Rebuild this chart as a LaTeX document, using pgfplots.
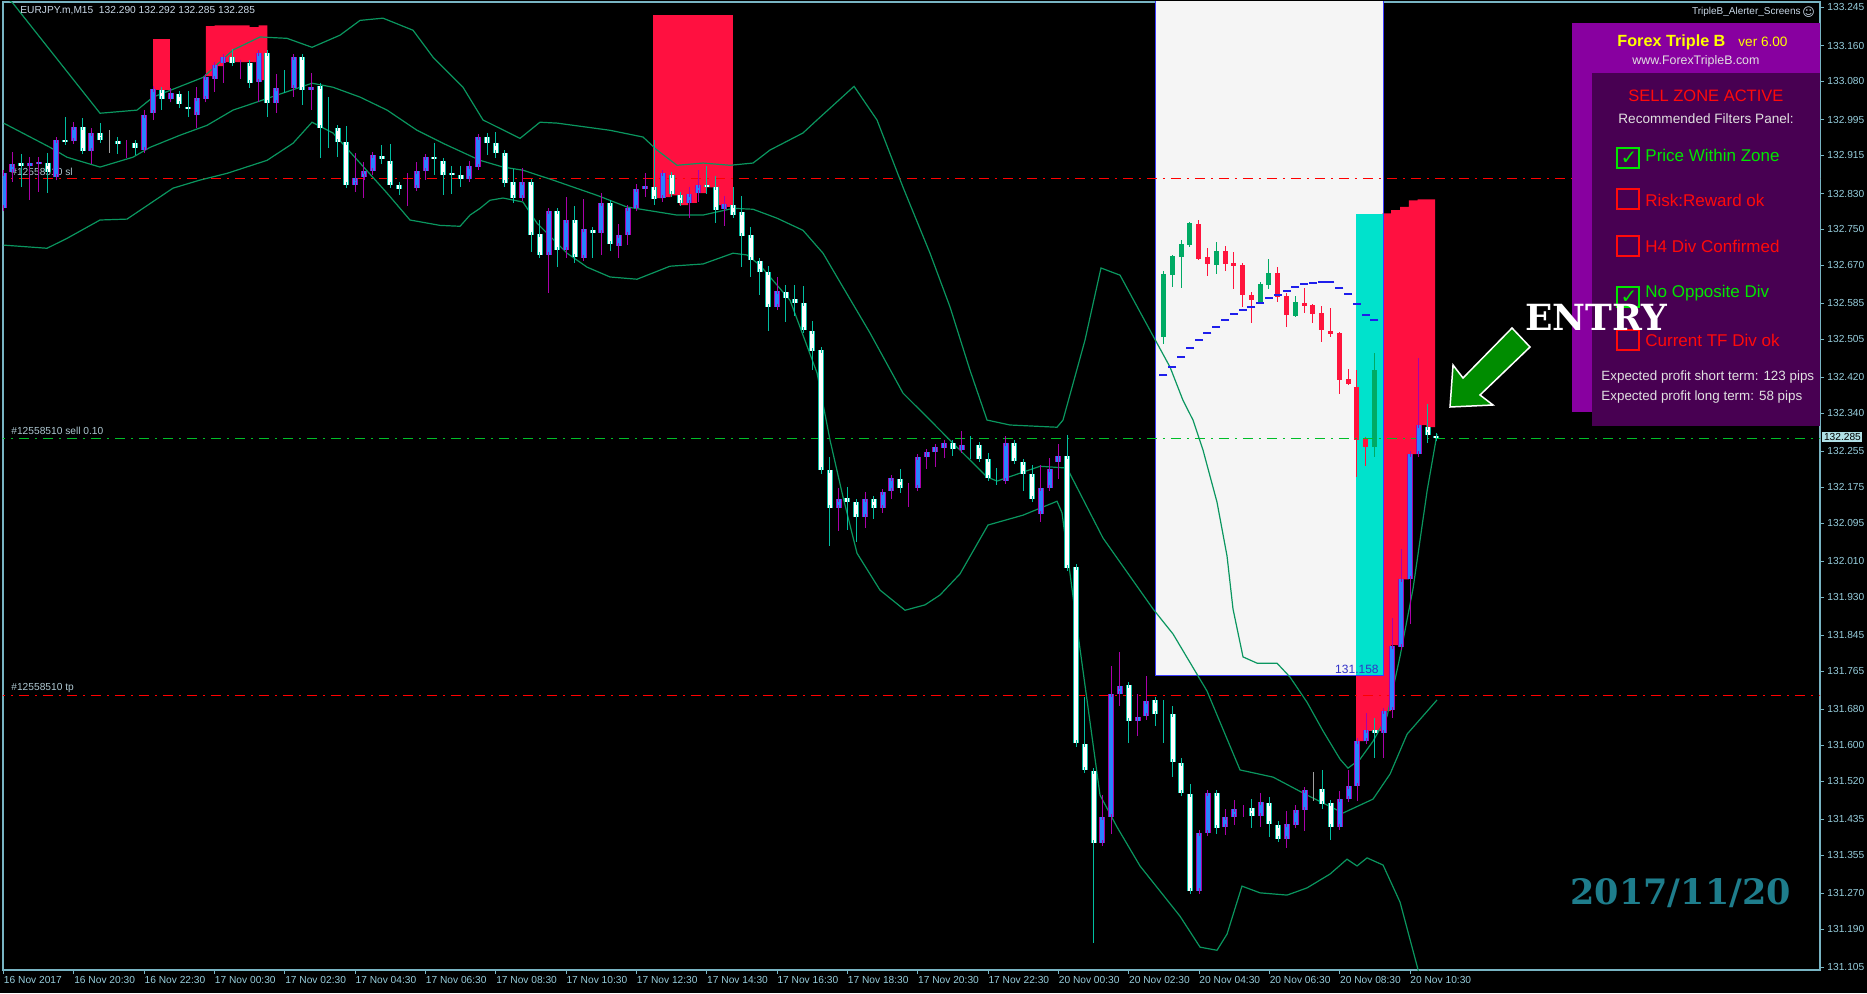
\documentclass[border=0pt]{standalone}
\usepackage{pgfplots}
\pgfplotsset{compat=1.18}
\usepackage{pgfplotstable}
\usepackage{fontspec}
\setmainfont{Liberation Sans}
\newfontfamily\dejavu{DejaVu Sans}
\newfontfamily\slab{DejaVu Serif}

\definecolor{framecol}{RGB}{120,180,195}
\definecolor{labcol}{RGB}{150,205,220}
\definecolor{wcol}{RGB}{0,190,160}
\definecolor{bfill}{RGB}{40,130,255}
\definecolor{bout}{RGB}{170,0,170}
\definecolor{gcol}{RGB}{160,160,160}
\definecolor{bandcol}{RGB}{10,150,95}
\definecolor{zonered}{RGB}{255,16,64}
\definecolor{zonecyan}{RGB}{0,226,204}
\definecolor{insetbg}{RGB}{245,245,245}
\definecolor{insetborder}{RGB}{60,60,255}
\definecolor{igreen}{RGB}{0,170,100}
\definecolor{ired}{RGB}{255,20,60}
\definecolor{psarcol}{RGB}{30,30,235}
\definecolor{slred}{RGB}{255,0,0}
\definecolor{sellgreen}{RGB}{0,190,40}
\definecolor{panelouter}{RGB}{136,0,160}
\definecolor{panelinner}{RGB}{72,0,82}
\definecolor{ptext}{RGB}{225,225,225}
\definecolor{pgreen}{RGB}{0,230,0}
\definecolor{pred}{RGB}{255,10,10}
\definecolor{pyellow}{RGB}{255,255,0}
\definecolor{arrowgreen}{RGB}{0,140,0}
\definecolor{datecol}{RGB}{30,125,140}
\definecolor{linelab}{RGB}{175,200,210}
\definecolor{toplab}{RGB}{200,215,230}
\definecolor{pricebox}{RGB}{176,224,230}
\definecolor{inlab}{RGB}{50,50,200}

% main chart candles: x, wick high, body top, body bottom, wick low
\pgfplotstableread{
x hi bt bb lo
2 132.918 132.898 132.891 132.844
5 132.920 132.898 132.878 132.831
7 133.000 132.949 132.945 132.942
9 132.998 132.978 132.924 132.918
11 132.987 132.965 132.949 132.942
13 132.956 132.947 132.940 132.918
15 132.945 132.942 132.931 132.916
18 133.065 133.060 133.040 133.016
20 133.054 133.051 133.029 133.020
21 133.058 133.022 133.018 133.000
26 133.152 133.134 133.121 133.114
28 133.123 133.121 133.076 133.065
30 133.145 133.143 133.031 133.000
32 133.105 133.067 133.067 133.054
34 133.138 133.134 133.060 133.027
36 133.071 133.069 132.976 132.909
37 133.045 132.976 132.976 132.931
38 132.978 132.976 132.945 132.911
39 132.980 132.945 132.849 132.842
43 132.938 132.913 132.907 132.895
44 132.940 132.902 132.849 132.844
45 132.855 132.849 132.840 132.826
49 132.942 132.911 132.907 132.871
50 132.907 132.902 132.871 132.826
51 132.891 132.875 132.871 132.829
52 132.891 132.871 132.862 132.844
55 132.965 132.956 132.942 132.916
56 132.967 132.942 132.920 132.909
57 132.922 132.920 132.853 132.844
58 132.884 132.855 132.820 132.809
60 132.858 132.855 132.737 132.699
61 132.771 132.739 132.693 132.688
63 132.795 132.791 132.704 132.666
65 132.802 132.771 132.688 132.675
67 132.755 132.748 132.742 132.686
69 132.815 132.809 132.717 132.702
74 132.949 132.844 132.817 132.804
76 132.875 132.871 132.829 132.824
77 132.831 132.826 132.809 132.804
80 132.891 132.849 132.844 132.829
81 132.869 132.844 132.793 132.764
83 132.844 132.804 132.782 132.780
84 132.824 132.789 132.735 132.666
85 132.755 132.737 132.681 132.644
86 132.686 132.679 132.655 132.603
87 132.668 132.655 132.577 132.523
89 132.626 132.610 132.597 132.543
90 132.626 132.594 132.585 132.557
91 132.624 132.585 132.525 132.521
92 132.545 132.523 132.479 132.436
93 132.483 132.481 132.213 132.204
94 132.242 132.213 132.129 132.044
96 132.175 132.151 132.142 132.080
97 132.144 132.142 132.109 132.053
99 132.153 132.149 132.129 132.104
102 132.216 132.193 132.173 132.162
108 132.276 132.274 132.260 132.245
110 132.289 132.269 132.269 132.238
111 132.271 132.269 132.238 132.231
112 132.251 132.238 132.196 132.189
113 132.218 132.196 132.196 132.180
115 132.276 132.274 132.233 132.231
116 132.233 132.231 132.204 132.167
117 132.225 132.204 132.149 132.147
121 132.291 132.245 131.995 131.993
122 131.999 131.997 131.605 131.596
123 131.707 131.603 131.545 131.540
124 131.549 131.542 131.382 131.159
128 131.736 131.734 131.654 131.605
131 131.703 131.701 131.669 131.643
132 131.701 131.667 131.667 131.605
133 131.687 131.669 131.563 131.529
134 131.571 131.560 131.493 131.491
135 131.513 131.491 131.275 131.271
138 131.498 131.493 131.415 131.402
142 131.480 131.460 131.442 131.415
144 131.485 131.471 131.424 131.395
145 131.431 131.422 131.391 131.386
150 131.545 131.502 131.469 131.458
151 131.476 131.471 131.418 131.389
156 131.661 131.634 131.627 131.571
162 132.361 132.309 132.291 132.274
163 132.292 132.290 132.285 132.285
}\tW

\pgfplotstableread{
x hi bt bb lo
0 132.882 132.875 132.797 132.793
1 132.922 132.895 132.878 132.855
3 132.911 132.898 132.891 132.815
4 132.911 132.900 132.895 132.833
6 132.956 132.949 132.866 132.864
8 132.989 132.978 132.947 132.945
10 132.976 132.965 132.924 132.895
14 132.949 132.942 132.942 132.909
16 133.016 133.005 132.927 132.920
17 133.065 133.063 133.009 132.994
19 133.065 133.054 133.040 133.038
22 133.067 133.043 133.005 132.976
23 133.094 133.089 133.040 133.038
24 133.121 133.116 133.085 133.056
25 133.138 133.134 133.121 133.076
27 133.123 133.121 133.121 133.085
29 133.145 133.143 133.078 133.034
31 133.096 133.065 133.031 133.009
33 133.138 133.134 133.065 133.045
35 133.098 133.067 133.060 133.016
40 132.920 132.864 132.849 132.833
41 132.900 132.880 132.866 132.820
42 132.922 132.916 132.880 132.871
46 132.875 132.842 132.842 132.802
47 132.900 132.880 132.842 132.837
48 132.916 132.911 132.880 132.860
53 132.902 132.891 132.862 132.860
54 132.960 132.956 132.889 132.887
59 132.887 132.855 132.820 132.815
62 132.795 132.791 132.693 132.608
64 132.822 132.771 132.704 132.686
66 132.817 132.751 132.686 132.684
68 132.831 132.809 132.742 132.693
70 132.762 132.737 132.713 132.686
71 132.800 132.797 132.737 132.715
72 132.851 132.840 132.797 132.795
73 132.875 132.846 132.840 132.822
75 132.875 132.875 132.820 132.811
78 132.844 132.829 132.809 132.775
79 132.882 132.849 132.831 132.811
82 132.824 132.806 132.795 132.757
88 132.644 132.612 132.577 132.574
95 132.173 132.149 132.129 132.077
98 132.164 132.149 132.109 132.084
100 132.167 132.164 132.129 132.118
101 132.200 132.196 132.167 132.149
103 132.184 132.173 132.173 132.131
104 132.242 132.242 132.173 132.169
105 132.258 132.254 132.242 132.216
106 132.269 132.265 132.254 132.220
107 132.278 132.274 132.262 132.240
109 132.300 132.269 132.258 132.256
114 132.289 132.274 132.189 132.189
118 132.225 132.173 132.115 132.097
119 132.240 132.216 132.173 132.169
120 132.271 132.245 132.231 132.193
125 131.489 131.440 131.382 131.380
126 131.776 131.714 131.440 131.402
127 131.808 131.732 131.714 131.687
129 131.714 131.663 131.654 131.620
130 131.754 131.698 131.665 131.656
136 131.411 131.404 131.275 131.275
137 131.498 131.493 131.404 131.402
139 131.458 131.440 131.418 131.400
140 131.478 131.458 131.440 131.422
141 131.467 131.460 131.460 131.440
143 131.493 131.473 131.442 131.418
146 131.453 131.424 131.391 131.371
147 131.467 131.456 131.422 131.418
148 131.507 131.500 131.456 131.409
152 131.498 131.480 131.418 131.415
153 131.545 131.509 131.480 131.478
154 131.612 131.609 131.509 131.476
155 131.672 131.634 131.609 131.609
157 131.681 131.676 131.627 131.571
158 131.883 131.821 131.678 131.661
159 132.037 131.970 131.819 131.814
160 132.254 132.249 131.970 131.870
161 132.463 132.314 132.249 132.249
}\tB

\pgfplotstableread{
x hi bt bb lo
12 132.971 132.945 132.945 132.920
149 131.540 131.502 131.502 131.476
}\tG

% inset candles
\pgfplotstableread{
x hi bt bb lo
131.95 132.657 132.650 132.510 132.494
132.95 132.693 132.690 132.648 132.621
133.95 132.726 132.717 132.688 132.619
134.95 132.766 132.764 132.715 132.710
137.95 132.722 132.702 132.670 132.650
142.95 132.632 132.628 132.589 132.585
143.95 132.684 132.652 132.626 132.617
146.95 132.601 132.589 132.557 132.554
155.95 132.474 132.436 132.265 132.242
}\tIG

\pgfplotstableread{
x hi bt bb lo
135.95 132.771 132.762 132.684 132.681
136.95 132.708 132.688 132.673 132.646
138.95 132.713 132.702 132.673 132.657
139.95 132.699 132.675 132.668 132.617
140.95 132.675 132.670 132.603 132.577
141.95 132.610 132.603 132.592 132.541
144.95 132.666 132.652 132.599 132.589
145.95 132.608 132.601 132.559 132.532
147.95 132.619 132.585 132.579 132.563
148.95 132.583 132.581 132.561 132.541
149.95 132.579 132.563 132.525 132.499
150.95 132.574 132.523 132.516 132.510
151.95 132.521 132.519 132.414 132.383
152.95 132.439 132.416 132.405 132.403
153.95 132.436 132.398 132.280 132.198
154.95 132.287 132.282 132.265 132.222
}\tIR

\pgfplotsset{
  wick/.style={draw=none, mark=none, forget plot,
    error bars/.cd, y dir=both, y explicit, error mark=none,
    error bar style={draw=#1, line width=0.5pt, solid}},
  bodyout/.style 2 args={draw=none, mark=none, forget plot,
    error bars/.cd, y dir=both, y explicit, error mark=none,
    error bar style={draw=#1, line width=#2, solid}},
  bodyin/.style 2 args={draw=none, mark=none, forget plot,
    error bars/.cd, y dir=both, y explicit, error mark=-,
    error mark options={draw=#2, line width=0.5pt, mark size=1.5pt, solid},
    error bar style={draw=#1, line width=2pt, solid}},
}

\newcommand{\candles}[4]{%
  \addplot[wick=#2] table[x=x, y expr={0.5*(\thisrow{hi}+\thisrow{lo})}, y error expr={0.5*(\thisrow{hi}-\thisrow{lo})}]{#1};
  \addplot[bodyout={#3}{3pt}] table[x=x, y expr={0.5*(\thisrow{bt}+\thisrow{bb})}, y error expr={0.5*(\thisrow{bt}-\thisrow{bb})}]{#1};
  \addplot[bodyin={#4}{#3}] table[x=x, y expr={0.5*(\thisrow{bt}+\thisrow{bb})}, y error expr={0.5*(\thisrow{bt}-\thisrow{bb})}]{#1};
}
\newcommand{\icandles}[2]{%
  \addplot[wick=#2] table[x=x, y expr={0.5*(\thisrow{hi}+\thisrow{lo})}, y error expr={0.5*(\thisrow{hi}-\thisrow{lo})}]{#1};
  \addplot[bodyout={#2}{2.5pt}] table[x=x, y expr={0.5*(\thisrow{bt}+\thisrow{bb})}, y error expr={0.5*(\thisrow{bt}-\thisrow{bb})}]{#1};
}

\begin{document}
\begin{tikzpicture}
\fill[black] (0,0) rectangle (933.5pt,496.5pt);

% order line labels (behind candles)
\begin{scope}[x=0.5pt,y=-0.5pt,shift={(0pt,496.5pt)}]
\node[anchor=south west, inner sep=0.5pt, text=linelab, font=\fontsize{5.1}{6}\selectfont] at (10,177) {\#12558510 sl};
\node[anchor=south west, inner sep=0.5pt, text=linelab, font=\fontsize{5.1}{6}\selectfont] at (10,436) {\#12558510 sell 0.10};
\node[anchor=south west, inner sep=0.5pt, text=linelab, font=\fontsize{5.1}{6}\selectfont] at (10,694) {\#12558510 tp};
\end{scope}

\begin{axis}[
  at={(1.5pt,11.5pt)}, anchor=south west,
  width=908.5pt, height=484pt, scale only axis,
  xmin=-0.068, xmax=206.64, ymin=131.099, ymax=133.257,
  axis line style={draw=framecol, line width=0.6pt},
  xtick={0,8,...,160},
  xticklabels={16 Nov 2017,16 Nov 20:30,16 Nov 22:30,17 Nov 00:30,17 Nov 02:30,17 Nov 04:30,17 Nov 06:30,17 Nov 08:30,17 Nov 10:30,17 Nov 12:30,17 Nov 14:30,17 Nov 16:30,17 Nov 18:30,17 Nov 20:30,17 Nov 22:30,20 Nov 00:30,20 Nov 02:30,20 Nov 04:30,20 Nov 06:30,20 Nov 08:30,20 Nov 10:30},
  ytick={131.105,131.190,131.270,131.355,131.435,131.520,131.600,131.680,131.765,131.845,131.930,132.010,132.095,132.175,132.255,132.340,132.420,132.505,132.585,132.670,132.750,132.830,132.915,132.995,133.080,133.160,133.245},
  yticklabels={131.105,131.190,131.270,131.355,131.435,131.520,131.600,131.680,131.765,131.845,131.930,132.010,132.095,132.175,132.255,132.340,132.420,132.505,132.585,132.670,132.750,132.830,132.915,132.995,133.080,133.160,133.245},
  xtick pos=left, ytick pos=right, yticklabel pos=right,
  tick align=outside, major tick length=2pt,
  tick style={draw=framecol, line width=0.5pt},
  tick label style={font=\fontsize{5.1}{6}\selectfont, text=labcol},
  xticklabel style={anchor=north west, xshift=-1pt, inner sep=1pt},
  yticklabel style={anchor=west, inner sep=1.5pt},
  clip=true,
]
% inset background
\addplot[fill=insetbg, draw=none, forget plot] coordinates {(131,131.756) (156.93,131.756) (156.93,133.30) (131,133.30)};
% red zones
\addplot[fill=zonered, draw=none, forget plot] coordinates {(17.0,133.060) (17.0,133.174) (18.93,133.174) (18.93,133.060)};
\addplot[fill=zonered, draw=none, forget plot] coordinates {(23,133.203) (24,133.203) (24,133.205) (28,133.205) (28,133.201) (29,133.201) (29,133.205) (30,133.205) (30,133.083) (29,133.083) (29,133.123) (25,133.123) (25,133.114) (24,133.114) (24,133.092) (23,133.092)};
\addplot[fill=zonered, draw=none, forget plot] coordinates {(73.88,133.228) (82.95,133.228) (82.95,132.800) (81.88,132.800) (81.88,132.804) (80.88,132.804) (80.88,132.844) (79.88,132.844) (79.88,132.831) (78.88,132.831) (78.88,132.809) (77.88,132.809) (77.88,132.804) (76.88,132.804) (76.88,132.826) (75.88,132.826) (75.88,132.822) (74.88,132.822) (74.88,132.820) (73.88,132.820)};
\addplot[fill=zonered, draw=none, forget plot] coordinates {(153.86,132.784) (156.86,132.784) (156.86,132.786) (157.86,132.786) (157.86,132.793) (158.86,132.793) (158.86,132.800) (159.86,132.800) (159.86,132.815) (160.86,132.815) (160.86,132.817) (162.86,132.817) (162.86,132.309) (161.86,132.309) (161.86,132.314) (160.86,132.314) (160.86,132.249) (159.86,132.249) (159.86,131.970) (158.86,131.970) (158.86,131.823) (157.86,131.823) (157.86,131.676) (156.86,131.676) (156.86,131.632) (154.86,131.632) (154.86,131.609) (153.86,131.609)};
% cyan part of inset
\addplot[fill=zonecyan, draw=none, forget plot] coordinates {(153.86,131.756) (156.93,131.756) (156.93,132.784) (153.86,132.784)};
\addplot[draw=insetborder, line width=0.5pt, forget plot] coordinates {(131,133.30) (131,131.756) (156.93,131.756) (156.93,133.30)};
% inset candles and SAR dashes
\icandles{\tIG}{igreen}
\icandles{\tIR}{ired}
\addplot[only marks, mark=-, mark size=2pt, mark options={draw=psarcol, line width=1pt}, forget plot] coordinates {
(131.95,132.425) (132.95,132.443) (133.95,132.465) (134.95,132.485) (135.95,132.503) (136.95,132.519) (137.95,132.532) (138.95,132.548) (139.95,132.561) (140.95,132.570) (141.95,132.577) (142.95,132.585) (143.95,132.597) (144.95,132.603) (145.95,132.612) (146.95,132.621) (147.95,132.628) (148.95,132.630) (149.95,132.632) (150.95,132.632) (151.95,132.619) (152.95,132.606) (153.95,132.583) (154.95,132.559) (155.95,132.548)};
% order lines
\addplot[slred, line width=0.5pt, dash pattern=on 5pt off 3pt on 1pt off 3pt, forget plot] coordinates {(-1,132.863) (210,132.863)};
\addplot[sellgreen, line width=0.5pt, dash pattern=on 5pt off 3pt on 1pt off 3pt, forget plot] coordinates {(-1,132.285) (210,132.285)};
\addplot[slred, line width=0.5pt, dash pattern=on 5pt off 3pt on 1pt off 3pt, forget plot] coordinates {(-1,131.712) (210,131.712)};
% Bollinger bands
\addplot[bandcol, line width=0.6pt, forget plot] coordinates {(0,133.272) (1.07,133.254) (10.97,133.009) (15.18,133.016) (17.0,133.045) (22.7,133.089) (26.1,133.150) (29.17,133.179) (32.24,133.176) (35.09,133.156) (38.27,133.183) (40.55,133.216) (43.16,133.221) (46.58,133.194) (48.85,133.134) (52.26,133.067) (54.54,132.994) (58.75,132.953) (61.02,132.989) (62.96,132.987) (68.99,132.971) (72.74,132.956) (74.33,132.927) (76.61,132.893) (79.57,132.898) (82.64,132.893) (85.26,132.898) (87.19,132.927) (90.94,132.965) (92.54,132.994) (96.75,133.069) (99.36,132.994) (102.32,132.844) (105.39,132.697) (107.67,132.577) (109.94,132.436) (111.88,132.325) (114.49,132.314) (119.84,132.309) (120.52,132.325) (123.02,132.503) (124.84,132.664) (127.01,132.648) (130.42,132.525) (132.7,132.443) (134.17,132.369) (135.31,132.325) (136.45,132.258) (138.04,132.142) (139.18,132.022) (139.86,131.904) (141.0,131.797) (142.6,131.783) (144.87,131.783) (146.35,131.752) (148.28,131.696) (150.1,131.632) (152.04,131.569) (152.94,131.549) (154.31,131.569) (155.79,131.609) (157.39,131.665) (158.87,131.799) (160.35,131.950) (161.94,132.167) (163.07,132.294)};
\addplot[bandcol, line width=0.6pt, forget plot] coordinates {(0,132.987) (5.28,132.933) (7.21,132.911) (10.97,132.889) (14.72,132.911) (16.66,132.933) (20.07,132.960) (23.14,132.982) (26.1,133.016) (28.37,133.031) (31.79,133.054) (35.09,133.076) (37.47,133.067) (40.55,133.045) (43.62,133.016) (47.03,132.971) (49.99,132.942) (54.2,132.904) (56.82,132.889) (59.09,132.882) (62.5,132.860) (67.51,132.826) (70.92,132.800) (76.61,132.782) (79.57,132.782) (82.98,132.797) (85.26,132.795) (87.99,132.775) (90.94,132.748) (93.22,132.697) (95.5,132.621) (98.57,132.519) (102.32,132.385) (105.39,132.325) (107.67,132.280) (111.88,132.198) (113.02,132.189) (117.91,132.222) (120.98,132.218) (125.07,132.062) (130.76,131.904) (133.04,131.848) (136.9,131.721) (140.66,131.545) (144.42,131.529) (148.28,131.489) (152.38,131.449) (155.79,131.480) (157.73,131.536) (159.67,131.625) (163.07,131.701)};
\addplot[bandcol, line width=0.6pt, forget plot] coordinates {(0,132.715) (4.94,132.708) (7.21,132.730) (10.97,132.771) (14.04,132.773) (15.86,132.797) (19.27,132.842) (22.34,132.860) (25.42,132.875) (29.97,132.904) (32.92,132.942) (35.09,132.989) (37.47,132.965) (40.55,132.898) (43.62,132.831) (46.23,132.771) (49.65,132.759) (51.93,132.757) (53.06,132.782) (54.2,132.797) (55.33,132.815) (56.82,132.820) (59.09,132.811) (60.68,132.764) (64.1,132.697) (66.37,132.666) (68.99,132.644) (72.06,132.639) (75.81,132.668) (79.57,132.673) (82.98,132.697) (84.58,132.693) (86.05,132.670) (89.47,132.592) (92.54,132.430) (94.02,132.280) (95.5,132.153) (97.09,132.028) (99.7,131.946) (102.55,131.901) (104.82,131.913) (106.53,131.935) (108.8,131.982) (111.99,132.091) (115.97,132.113) (119.84,132.144) (120.41,132.118) (122.12,131.863) (124.73,131.489) (126.66,131.418) (129.28,131.331) (133.83,131.219) (136.11,131.150) (138.04,131.143) (139.18,131.179) (140.88,131.286) (142.94,131.271) (146.01,131.266) (148.28,131.282) (150.9,131.313) (152.83,131.346) (153.97,131.331) (155.11,131.349) (156.93,131.333) (158.87,131.250) (160.8,131.108) (161.37,131.065)};
% candles
\candles{\tW}{wcol}{wcol}{white}
\candles{\tB}{bout}{bout}{bfill}
\candles{\tG}{gcol}{gcol}{gcol}
\end{axis}

% annotations in pixel coordinates
\begin{scope}[x=0.5pt,y=-0.5pt,shift={(0pt,496.5pt)}]
\node[anchor=west, inner sep=0pt, text=toplab, font=\fontsize{5.1}{6}\selectfont] at (20,11) {EURJPY.m,M15\ \ 132.290 132.292 132.285 132.285};
\node[anchor=east, inner sep=0pt, text=toplab, font=\fontsize{5.0}{6}\selectfont] at (1801,12) {TripleB\_Alerter\_Screens};
\node[anchor=west, inner sep=0pt, text=toplab, font=\dejavu\fontsize{6}{7}\selectfont] at (1802,12) {☺};
\node[anchor=east, inner sep=0pt, text=inlab, font=\fontsize{6}{7}\selectfont] at (1379,669) {131.158};
% panel
\fill[panelouter] (1572,23) rectangle (1820,412);
\fill[panelinner] (1592,73) rectangle (1820,426);
\node[anchor=west, inner sep=0pt, text=pyellow, font=\bfseries\fontsize{8.1}{9}\selectfont] at (1617,42) {Forex Triple B};
\node[anchor=west, inner sep=0pt, text=pyellow, font=\fontsize{6.8}{8}\selectfont] at (1738,42) {ver 6.00};
\node[anchor=west, inner sep=0pt, text=ptext, font=\fontsize{6.2}{7}\selectfont] at (1632,61) {www.ForexTripleB.com};
\node[anchor=west, inner sep=0pt, text=pred, font=\fontsize{8.25}{9}\selectfont] at (1628,96) {SELL ZONE ACTIVE};
\node[anchor=west, inner sep=0pt, text=ptext, font=\fontsize{6.8}{8}\selectfont] at (1618,119) {Recommended Filters Panel:};
\draw[pgreen, line width=0.75pt] (1617,148) rectangle (1639,168);
\draw[pred, line width=0.75pt] (1617,189) rectangle (1639,209);
\draw[pred, line width=0.75pt] (1617,236) rectangle (1639,256);
\draw[pgreen, line width=0.75pt] (1617,287) rectangle (1639,307);
\draw[pred, line width=0.75pt] (1617,330) rectangle (1639,350);
\node[anchor=center, inner sep=0pt, text=pgreen, font=\dejavu\fontsize{10}{11}\selectfont] at (1629,158) {✓};
\node[anchor=center, inner sep=0pt, text=pgreen, font=\dejavu\fontsize{10}{11}\selectfont] at (1629,297) {✓};
\node[anchor=west, inner sep=0pt, text=pgreen, font=\fontsize{8.5}{9}\selectfont] at (1645,155) {Price Within Zone};
\node[anchor=west, inner sep=0pt, text=pred, font=\fontsize{8.5}{9}\selectfont] at (1645,200) {Risk:Reward ok};
\node[anchor=west, inner sep=0pt, text=pred, font=\fontsize{8.5}{9}\selectfont] at (1645,246) {H4 Div Confirmed};
\node[anchor=west, inner sep=0pt, text=pgreen, font=\fontsize{8.5}{9}\selectfont] at (1645,293) {No Opposite Div};
\node[anchor=west, inner sep=0pt, text=pred, font=\fontsize{8.5}{9}\selectfont] at (1645,340) {Current TF Div ok};
\node[anchor=west, inner sep=0pt, text=ptext, font=\fontsize{6.7}{8}\selectfont] at (1601,377) {Expected profit short term: 123 pips};
\node[anchor=west, inner sep=0pt, text=ptext, font=\fontsize{6.7}{8}\selectfont] at (1601,397) {Expected profit long term: 58 pips};
% ENTRY and arrow
\node[anchor=west, inner sep=0pt, text=white, font=\slab\bfseries\fontsize{18}{20}\selectfont] at (1525,317) {ENTRY};
\filldraw[fill=arrowgreen, draw=white, line width=0.75pt, line join=miter] (1450,407) -- (1453,365) -- (1463,378) -- (1512,328) -- (1530,347) -- (1480,395) -- (1493,405) -- cycle;
% date stamp
\node[anchor=west, inner sep=0pt, text=datecol, font=\slab\bfseries\fontsize{17.5}{19}\selectfont] at (1570,893) {2017/11/20};
% current price box
\node[anchor=west, fill=pricebox, text=black, inner sep=0.8pt, font=\fontsize{5.1}{6}\selectfont] at (1822,437) {132.285};
\end{scope}
\pgfresetboundingbox
\useasboundingbox (0,0) rectangle (933.5pt,496.5pt);
\end{tikzpicture}
\end{document}
